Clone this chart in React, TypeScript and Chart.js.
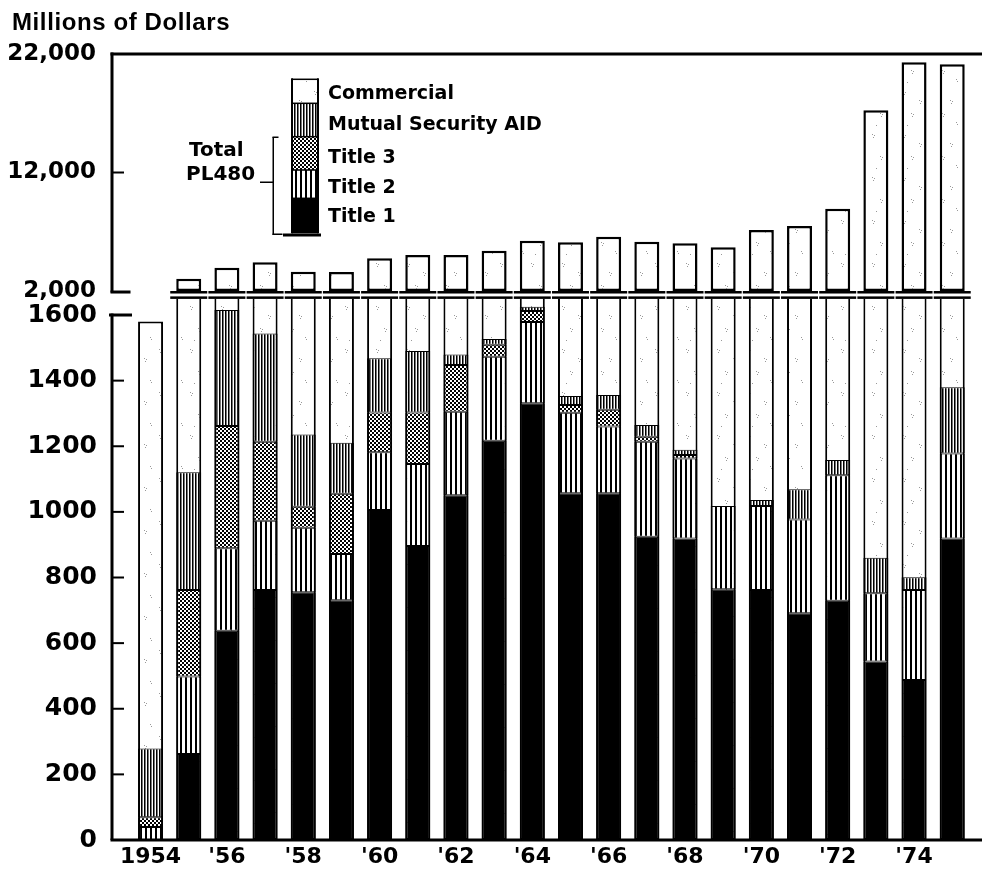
import React, { useEffect, useRef } from 'react';
import { Chart, registerables } from 'chart.js';

Chart.register(...registerables);

// ---------- data (millions of dollars) ----------
const years = [1954, 1955, 1956, 1957, 1958, 1959, 1960, 1961, 1962, 1963, 1964, 1965, 1966, 1967, 1968, 1969, 1970, 1971, 1972, 1973, 1974, 1975];
const title1 = [0, 262, 638, 762, 755, 731, 1006, 896, 1051, 1217, 1331, 1057, 1057, 924, 919, 764, 762, 691, 729, 544, 488, 919];
const title2 = [40, 236, 251, 211, 197, 141, 176, 250, 254, 256, 248, 245, 203, 290, 244, 254, 256, 286, 383, 208, 274, 259];
const title3 = [29, 264, 373, 241, 64, 183, 121, 157, 143, 36, 33, 24, 51, 15, 10, 0, 0, 0, 0, 0, 0, 0];
const mutualSecurityAid = [210, 359, 353, 330, 220, 156, 165, 187, 32, 18, 13, 27, 45, 36, 16, 0, 18, 92, 46, 108, 39, 202];
const totalExports = [1580, 3040, 3970, 4420, 3630, 3600, 4760, 5040, 5040, 5400, 6240, 6110, 6580, 6160, 6030, 5690, 7150, 7490, 8950, 17250, 21300, 21130];

const legendNames = ['Commercial', 'Mutual Security AID', 'Title 3', 'Title 2', 'Title 1'];
const bracketText = ['Total', 'PL480'];
const yAxisTitle = 'Millions of Dollars';

const xTickValues = [1954, 1956, 1958, 1960, 1962, 1964, 1966, 1968, 1970, 1972, 1974];
const xTickLabels = ['1954', "'56", "'58", "'60", "'62", "'64", "'66", "'68", "'70", "'72", "'74"];
const lowerTickValues = [0, 200, 400, 600, 800, 1000, 1200, 1400, 1600];
const lowerTickLabels = ['0', '200', '400', '600', '800', '1000', '1200', '1400', '1600'];
const upperTickValues = [2000, 12000, 22000];
const upperTickLabels = ['2,000', '12,000', '22,000'];

const xMin = 1952.99;
const xMax = 1975.78;
const lowerMax = 1650;
const upperMin = 1360;
const upperMax = 22000;

function makePattern(kind: string): CanvasPattern | string {
  const c = document.createElement('canvas');
  const g = c.getContext('2d')!;
  if (kind === 'title2') {
    c.width = 5; c.height = 4;
    g.fillStyle = '#fff'; g.fillRect(0, 0, 5, 4);
    g.fillStyle = '#000'; g.fillRect(0, 0, 2, 4);
  } else if (kind === 'aid') {
    c.width = 3; c.height = 4;
    g.fillStyle = '#fff'; g.fillRect(0, 0, 3, 4);
    g.fillStyle = '#000'; g.fillRect(0, 0, 1, 4);
    g.fillStyle = '#777'; g.fillRect(1, 0, 1, 4);
  } else if (kind === 'title3') {
    c.width = 4; c.height = 4;
    g.fillStyle = '#fff'; g.fillRect(0, 0, 4, 4);
    g.fillStyle = '#000'; g.fillRect(0, 0, 2, 2); g.fillRect(2, 2, 2, 2);
  } else {
    c.width = 31; c.height = 43;
    g.fillStyle = '#fff'; g.fillRect(0, 0, 31, 43);
    g.fillStyle = '#999';
    const dots = [[4, 5], [6, 6], [5, 8], [20, 14], [22, 15], [21, 17], [12, 27], [14, 28], [13, 30], [26, 36], [27, 38], [8, 39]];
    dots.forEach(([x, y]) => g.fillRect(x, y, 1, 1));
  }
  return g.createPattern(c, 'repeat') || '#fff';
}

const panelClip = {
  id: 'panelClip',
  beforeDatasetDraw(chart: any, args: any) {
    const ds = chart.data.datasets[args.index];
    const a = chart.chartArea;
    const ctx = chart.ctx;
    ctx.save();
    ctx.beginPath();
    if (ds.yAxisID === 'yTop') {
      const yb = chart.scales.yTop.getPixelForValue(upperTickValues[0]);
      ctx.rect(a.left, a.top - 10, a.right - a.left, yb - a.top + 10);
    } else {
      const yt = chart.scales.y.top;
      ctx.rect(a.left, yt, a.right - a.left, a.bottom - yt + 10);
    }
    ctx.clip();
  },
  afterDatasetDraw(chart: any) {
    chart.ctx.restore();
  },
};

export default function App() {
  const ref = useRef<HTMLCanvasElement>(null);

  useEffect(() => {
    const canvas = ref.current!;
    const pat = {
      title2: makePattern('title2'),
      aid: makePattern('aid'),
      title3: makePattern('title3'),
      commercial: makePattern('commercial'),
    };
    const legendFills = [pat.commercial, pat.aid, pat.title3, pat.title2, '#000'];

    const decor = {
      id: 'decor',
      afterDatasetsDraw(chart: any) {
        const ctx = chart.ctx as CanvasRenderingContext2D;
        const a = chart.chartArea;
        const yT = chart.scales.yTop;
        const yB = chart.scales.y;
        ctx.save();
        ctx.fillStyle = '#000';
        const y22 = yT.getPixelForValue(upperTickValues[2]);
        const y2k = yT.getPixelForValue(upperTickValues[0]);
        const y16 = yB.getPixelForValue(lowerTickValues[lowerTickValues.length - 1]);
        const y0 = yB.getPixelForValue(0);
        // frame lines
        ctx.fillRect(a.left - 1.5, y22 - 1.5, a.right - a.left + 1.5, 3);
        ctx.fillRect(a.left - 1.5, y22 - 1.5, 3, y2k - y22 + 3);
        ctx.fillRect(a.left - 1.5, y2k - 0.5, 20, 3);
        ctx.fillRect(a.left - 1.5, y16 - 1.5, 3, y0 - y16 + 1.5);
        ctx.fillRect(a.left - 3, y16 - 1.5, 23, 3);
        ctx.fillRect(a.left - 1.5, y0 - 1.5, a.right - a.left + 1.5, 3);
        // inward ticks
        yT.ticks.forEach((t: any) => {
          if (t.value === upperTickValues[1]) {
            const py = yT.getPixelForValue(t.value);
            ctx.fillRect(a.left, py - 1, 12, 2);
          }
        });
        yB.ticks.forEach((t: any, i: number) => {
          if (i > 0 && i < yB.ticks.length - 1) {
            const py = yB.getPixelForValue(t.value);
            ctx.fillRect(a.left, py - 1, 12, 2);
          }
        });
        // break platforms
        const meta = chart.getDatasetMeta(5);
        meta.data.forEach((bar: any, i: number) => {
          if (totalExports[i] > lowerMax) {
            const w = bar.width;
            ctx.fillRect(bar.x - w / 2 - 6, y2k, w + 12, 2.5);
            ctx.fillRect(bar.x - w / 2 - 6, yB.top - 2.2, w + 12, 2.5);
          }
        });
        // legend mini bar
        const lx = 292, lw = 26;
        const edges = [79.3, 103.3, 136.7, 170, 198.3, 233.3];
        for (let k = 0; k < 5; k++) {
          ctx.fillStyle = legendFills[k] as any;
          ctx.fillRect(lx, edges[k], lw, edges[k + 1] - edges[k]);
          ctx.fillStyle = '#000';
          ctx.fillRect(lx, edges[k] - 0.75, lw, 1.5);
        }
        ctx.fillStyle = '#000';
        ctx.fillRect(lx - 1, edges[0] - 1, 2, edges[5] - edges[0] + 1);
        ctx.fillRect(lx + lw - 1, edges[0] - 1, 2, edges[5] - edges[0] + 1);
        ctx.fillRect(283, 233.5, 38, 3);
        // bracket
        ctx.fillRect(272.5, 137, 1.5, 98);
        ctx.fillRect(272.5, 136.5, 6, 1.5);
        ctx.fillRect(272.5, 233.5, 10, 1.5);
        ctx.fillRect(260, 181.5, 13, 1.5);
        // legend text
        ctx.font = 'bold 19px "DejaVu Sans"';
        ctx.textAlign = 'left';
        ctx.textBaseline = 'alphabetic';
        const baselines = [98.5, 129.5, 163, 192.5, 221.5];
        legendNames.forEach((n, k) => ctx.fillText(n, 328, baselines[k]));
        ctx.font = 'bold 20px "DejaVu Sans"';
        ctx.fillText(bracketText[0], 189, 156);
        ctx.fillText(bracketText[1], 186, 179.5);
        // axis title
        ctx.font = 'bold 24px "Liberation Sans"';
        (ctx as any).letterSpacing = '0.6px';
        ctx.fillText(yAxisTitle, 12, 30);
        ctx.restore();
      },
    };

    const common = {
      grouped: false,
      maxBarThickness: 25,
      barPercentage: 0.9,
      borderColor: '#000',
      borderSkipped: false,
    };
    const seg = { top: 1, bottom: 1, left: 2, right: 2 };
    const pts = (arr: number[]) => years.map((yr, i) => ({ x: yr, y: arr[i] }));

    const chart = new Chart(canvas, {
      type: 'bar',
      data: {
        datasets: [
          { ...common, label: 'Title 1', data: pts(title1), yAxisID: 'y', stack: 'pl', backgroundColor: '#000', borderWidth: seg, order: 0 },
          { ...common, label: 'Title 2', data: pts(title2), yAxisID: 'y', stack: 'pl', backgroundColor: pat.title2 as any, borderWidth: seg, order: 0 },
          { ...common, label: 'Title 3', data: pts(title3), yAxisID: 'y', stack: 'pl', backgroundColor: pat.title3 as any, borderWidth: seg, order: 0 },
          { ...common, label: 'Mutual Security AID', data: pts(mutualSecurityAid), yAxisID: 'y', stack: 'pl', backgroundColor: pat.aid as any, borderWidth: seg, order: 0 },
          { ...common, label: 'Commercial', data: pts(totalExports), yAxisID: 'y', stack: 'total', backgroundColor: pat.commercial as any, borderWidth: 2, order: 2 },
          { ...common, label: 'Total exports', data: pts(totalExports), yAxisID: 'yTop', base: upperTickValues[0], backgroundColor: pat.commercial as any, borderWidth: 2.5, order: 1 },
        ] as any,
      },
      options: {
        responsive: false,
        animation: false,
        devicePixelRatio: 1,
        layout: { padding: { top: 54, left: 0, right: 0, bottom: 0 } },
        plugins: { legend: { display: false }, tooltip: { enabled: false }, title: { display: false } },
        scales: {
          x: {
            type: 'linear',
            offset: false,
            min: xMin,
            max: xMax,
            afterBuildTicks: (s: any) => { s.ticks = xTickValues.map((v) => ({ value: v })); },
            afterFit: (s: any) => { s.height = 33; },
            ticks: {
              callback: (_v: any, i: number) => xTickLabels[i],
              font: { family: 'DejaVu Sans', weight: 'bold', size: 22 },
              color: '#000', padding: 4, maxRotation: 0, autoSkip: false,
            },
            grid: { display: false, drawTicks: false, tickLength: 0, offset: false },
            border: { display: false },
          },
          y: {
            type: 'linear',
            position: 'left',
            stack: 'v',
            stackWeight: 541.4,
            weight: 0,
            stacked: true,
            min: 0,
            max: lowerMax,
            afterBuildTicks: (s: any) => { s.ticks = lowerTickValues.map((v) => ({ value: v })); },
            afterFit: (s: any) => { s.width = 112; },
            ticks: { callback: (_v: any, i: number) => lowerTickLabels[i], font: { family: 'DejaVu Sans', weight: 'bold', size: 25 }, color: '#000', padding: 15 },
            grid: { display: false, drawTicks: false, tickLength: 0 },
            border: { display: false },
          },
          yTop: {
            type: 'linear',
            position: 'left',
            stack: 'v',
            stackWeight: 244.6,
            weight: 1,
            min: upperMin,
            max: upperMax,
            afterBuildTicks: (s: any) => { s.ticks = upperTickValues.map((v) => ({ value: v })); },
            afterFit: (s: any) => { s.width = 112; },
            ticks: { callback: (_v: any, i: number) => upperTickLabels[i], font: { family: 'DejaVu Sans', weight: 'bold', size: 23 }, color: '#000', padding: 16 },
            grid: { display: false, drawTicks: false, tickLength: 0 },
            border: { display: false },
          },
        },
      } as any,
      plugins: [panelClip, decor],
    });
    return () => chart.destroy();
  }, []);

  return (
    <div style={{ position: 'fixed', left: 0, top: 0, width: 982, height: 873, background: '#fff' }}>
      <canvas ref={ref} width={982} height={873} style={{ display: 'block' }} />
    </div>
  );
}
